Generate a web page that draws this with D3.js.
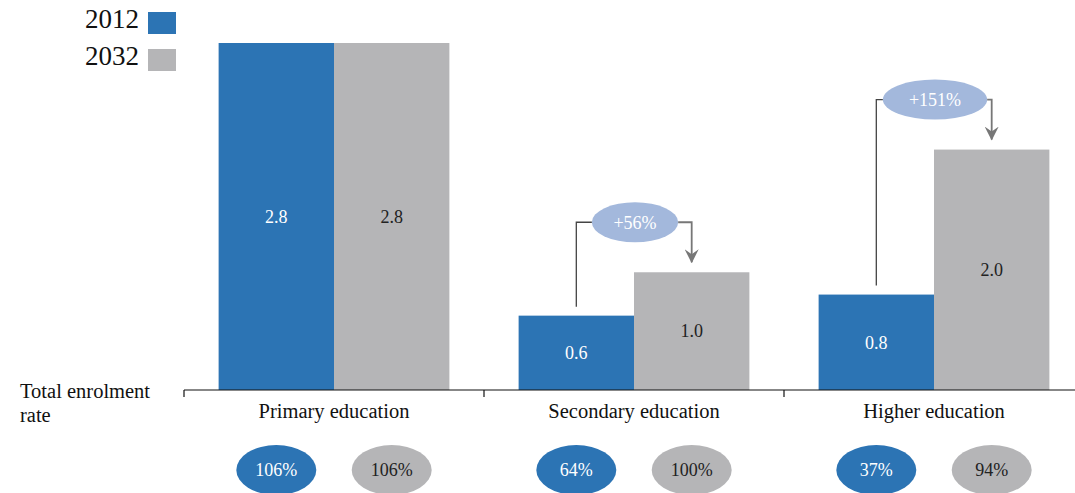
<!DOCTYPE html>
<html>
<head>
<meta charset="utf-8">
<script src="https://cdn.jsdelivr.net/npm/d3@7"></script>
<style>
  body { margin: 0; background: #fff; }
  text { font-family: 'Liberation Serif', 'DejaVu Serif', serif; }
</style>
</head>
<body>
<div id="chart"></div>
<script>
// data
let categories = ['Primary education', 'Secondary education', 'Higher education']
let years = ['2012', '2032']
let values2012 = [2.8, 0.6, 0.77]
let values2032 = [2.8, 0.95, 1.94]
let labels2012 = ['2.8', '0.6', '0.8']
let labels2032 = ['2.8', '1.0', '2.0']
let rates2012 = ['106%', '64%', '37%']
let rates2032 = ['106%', '100%', '94%']
let growth = [null, '+56%', '+151%']

let width = 1075
let height = 493
let blue = '#2c74b4'
let grey = '#b5b5b7'

let svg = d3
  .select('#chart')
  .append('svg')
  .attr('width', width)
  .attr('height', height)

let x0 = d3.scaleBand().domain(categories).range([184, 1084]).paddingInner(0)
let x1 = d3.scaleBand().domain(years).range([0, x0.bandwidth()]).paddingOuter(0.3)
let y = d3.scaleLinear().domain([0, 2.8]).range([390, 43])

let rows = categories.map((c, i) => ({
  cat: c,
  bars: [
    { year: '2012', v: values2012[i], label: labels2012[i], rate: rates2012[i] },
    { year: '2032', v: values2032[i], label: labels2032[i], rate: rates2032[i] }
  ],
  growth: growth[i]
}))

let color = d => (d.year === '2012' ? blue : grey)
let textColor = d => (d.year === '2012' ? '#fff' : '#222')

let groups = svg
  .selectAll('.group')
  .data(rows)
  .enter()
  .append('g')
  .attr('class', 'group')
  .attr('transform', d => `translate(${x0(d.cat)},0)`)

// bars
groups
  .selectAll('rect')
  .data(d => d.bars)
  .enter()
  .append('rect')
  .attr('x', d => x1(d.year))
  .attr('y', d => y(d.v))
  .attr('width', x1.bandwidth())
  .attr('height', d => y(0) - y(d.v))
  .attr('fill', color)

// bar labels
groups
  .selectAll('.bar-label')
  .data(d => d.bars)
  .enter()
  .append('text')
  .attr('class', 'bar-label')
  .attr('x', d => x1(d.year) + x1.bandwidth() / 2)
  .attr('y', d => (y(d.v) + y(0)) / 2)
  .attr('dy', '0.35em')
  .attr('text-anchor', 'middle')
  .attr('font-size', 18)
  .attr('fill', textColor)
  .text(d => d.label)

// enrolment rate ellipses
groups
  .selectAll('.rate')
  .data(d => d.bars)
  .enter()
  .append('ellipse')
  .attr('cx', d => x1(d.year) + x1.bandwidth() / 2)
  .attr('cy', 470)
  .attr('rx', 40)
  .attr('ry', 25)
  .attr('fill', color)

groups
  .selectAll('.rate-label')
  .data(d => d.bars)
  .enter()
  .append('text')
  .attr('class', 'rate-label')
  .attr('x', d => x1(d.year) + x1.bandwidth() / 2)
  .attr('y', 470)
  .attr('dy', '0.35em')
  .attr('text-anchor', 'middle')
  .attr('font-size', 18)
  .attr('fill', textColor)
  .text(d => d.rate)

// growth annotations
svg
  .append('defs')
  .append('marker')
  .attr('id', 'arrow')
  .attr('viewBox', '0 0 14 14')
  .attr('refX', 7)
  .attr('refY', 13)
  .attr('markerWidth', 14)
  .attr('markerHeight', 14)
  .attr('markerUnits', 'userSpaceOnUse')
  .attr('orient', 0)
  .append('path')
  .attr('d', 'M0,0 L7,5 L14,0 L7,14 Z')
  .attr('fill', '#777')

rows.filter(d => d.growth).forEach(d => {
  let g = svg.append('g').attr('transform', `translate(${x0(d.cat)},0)`)
  let xa = x1('2012') + x1.bandwidth() / 2
  let xb = x1('2032') + x1.bandwidth() / 2
  let ya = y(d.bars[0].v) - 9
  let yb = y(d.bars[1].v) - 10
  let cy = y(d.bars[1].v) - 50
  let cx = (xa + xb) / 2 + 1

  let label = g
    .append('text')
    .attr('x', cx)
    .attr('y', cy)
    .attr('dy', '0.35em')
    .attr('text-anchor', 'middle')
    .attr('font-size', 18)
    .attr('fill', '#fff')
    .text(d.growth)
  let rx = label.node().getComputedTextLength()

  g.append('path')
    .attr('d', `M${xa},${ya} V${cy} H${cx - rx}`)
    .attr('fill', 'none')
    .attr('stroke', '#444')
    .attr('stroke-width', 1.3)

  g.append('path')
    .attr('d', `M${cx + rx},${cy} H${xb} V${yb}`)
    .attr('fill', 'none')
    .attr('stroke', '#777')
    .attr('stroke-width', 1.8)
    .attr('marker-end', 'url(#arrow)')

  g.insert('ellipse', 'text')
    .attr('cx', cx)
    .attr('cy', cy)
    .attr('rx', rx)
    .attr('ry', 20)
    .attr('fill', '#a3b8dc')
})

// axis line, ticks at band edges and category labels
svg
  .append('line')
  .attr('x1', x0.range()[0])
  .attr('x2', width)
  .attr('y1', y(0))
  .attr('y2', y(0))
  .attr('stroke', '#111')
  .attr('stroke-width', 1.2)

svg
  .selectAll('.tick')
  .data(categories)
  .enter()
  .append('line')
  .attr('class', 'tick')
  .attr('x1', d => x0(d))
  .attr('x2', d => x0(d))
  .attr('y1', y(0))
  .attr('y2', y(0) + 7)
  .attr('stroke', '#111')
  .attr('stroke-width', 1.2)

svg
  .selectAll('.cat-label')
  .data(categories)
  .enter()
  .append('text')
  .attr('class', 'cat-label')
  .attr('x', d => x0(d) + x0.bandwidth() / 2)
  .attr('y', 418)
  .attr('text-anchor', 'middle')
  .attr('font-size', 20.5)
  .attr('fill', '#111')
  .text(d => d)

// left caption
svg
  .append('text')
  .attr('x', 20)
  .attr('y', 398)
  .attr('font-size', 20.5)
  .attr('fill', '#111')
  .text('Total enrolment')
svg
  .append('text')
  .attr('x', 20)
  .attr('y', 422)
  .attr('font-size', 20.5)
  .attr('fill', '#111')
  .text('rate')

// legend
let legend = svg
  .selectAll('.legend')
  .data(years)
  .enter()
  .append('g')
  .attr('class', 'legend')
  .attr('transform', (d, i) => `translate(0, ${i * 37})`)

legend
  .append('rect')
  .attr('x', 148)
  .attr('y', 12)
  .attr('width', 28)
  .attr('height', 22)
  .attr('fill', d => (d === '2012' ? blue : grey))

legend
  .append('text')
  .attr('x', 139)
  .attr('y', 28)
  .attr('text-anchor', 'end')
  .attr('font-size', 27)
  .attr('fill', '#111')
  .text(d => d)
</script>
</body>
</html>
